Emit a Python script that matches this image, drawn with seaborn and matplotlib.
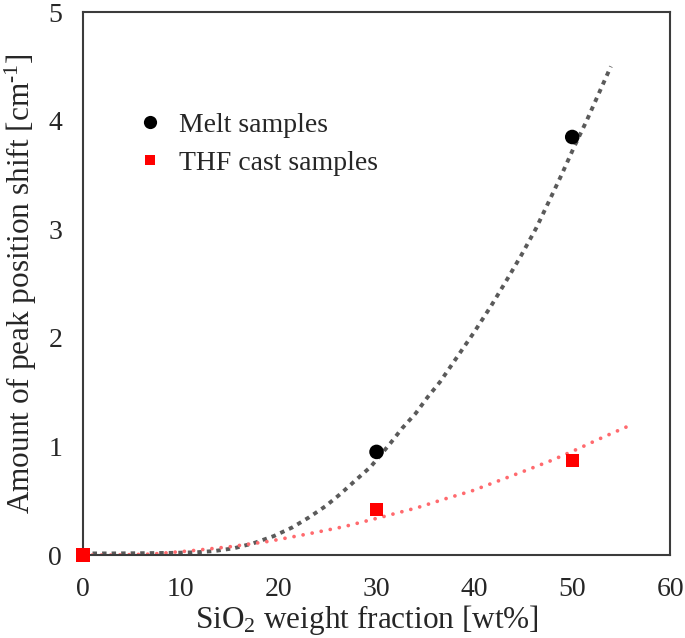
import matplotlib
matplotlib.use("Agg")
import matplotlib.pyplot as plt
import seaborn as sns
import pandas as pd
from matplotlib.lines import Line2D
from matplotlib.ticker import MultipleLocator

# ---- data ----
melt_x = [30, 50]
melt_y = [0.95, 3.85]
thf_x = [0, 30, 50]
thf_y = [0.0, 0.42, 0.87]

# trend curves
melt_fit_x = [0, 3, 6, 9, 11.5, 13.4, 15.4, 17.4, 19.5, 21.4, 23.1, 24.8, 26.3, 27.8, 29.4,
              31.4, 32.6, 34.0, 35.2, 36.5, 40.0, 41.7, 43.3, 44.8, 46.3, 47.6, 48.9, 50.2,
              51.5, 53.95]
melt_fit_y = [0.015, 0.015, 0.017, 0.02, 0.025, 0.037, 0.062, 0.108, 0.175, 0.255, 0.347,
              0.451, 0.562, 0.684, 0.813, 1.028, 1.166, 1.305, 1.452, 1.596, 2.056, 2.293,
              2.532, 2.762, 3.008, 3.253, 3.50, 3.76, 4.005, 4.50]
thf_fit_x = [0, 3.1, 7.0, 11.1, 15.05, 18.97, 22.9, 26.65, 30.4, 34.15, 36.95, 39.78, 42.48,
             45.17, 47.9, 50.53, 53.19, 55.82]
thf_fit_y = [0.0, 0.0, 0.009, 0.04, 0.077, 0.126, 0.193, 0.261, 0.347, 0.436, 0.516, 0.592,
             0.684, 0.776, 0.872, 0.976, 1.087, 1.191]

legend_labels = ["Melt samples", "THF cast samples"]
x_ticks = [0, 10, 20, 30, 40, 50, 60]
y_ticks = [0, 1, 2, 3, 4, 5]

sns.set_style("white")
plt.rcParams["font.family"] = ["Liberation Serif", "DejaVu Serif"]
plt.rcParams["mathtext.fontset"] = "custom"
plt.rcParams["mathtext.rm"] = "Liberation Serif"
plt.rcParams["mathtext.it"] = "Liberation Serif:italic"

TICK_FS = 20
LABEL_FS = 22.5
LEG_FS = 20

fig = plt.figure(figsize=(6.85, 6.38), dpi=100)
ax = fig.add_axes([0.1212, 0.130, 0.857, 0.851])

melt_fit = pd.DataFrame({"x": melt_fit_x, "y": melt_fit_y})
thf_fit = pd.DataFrame({"x": thf_fit_x, "y": thf_fit_y})

sns.lineplot(data=melt_fit, x="x", y="y", ax=ax, sort=False, estimator=None,
             color="#5a5a5a", linewidth=2.8, linestyle=(0, (1.15, 1.3)),
             dash_capstyle="butt", zorder=2)
sns.lineplot(data=thf_fit, x="x", y="y", ax=ax, sort=False, estimator=None,
             color="#ff6a6e", linewidth=2.7, linestyle=(0, (0.01, 2.45)),
             dash_capstyle="round", zorder=2)

sns.scatterplot(x=melt_x, y=melt_y, ax=ax, marker="o", s=110, color="black",
                edgecolor="none", zorder=4, clip_on=False)
sns.scatterplot(x=thf_x, y=thf_y, ax=ax, marker="s", s=90, color="#ff0000",
                edgecolor="none", zorder=5, clip_on=False)

ax.set_xlim(0, 60)
ax.set_ylim(0, 5)
ax.set_xticks(x_ticks)
ax.set_yticks(y_ticks)
ax.xaxis.set_minor_locator(MultipleLocator(2))
ax.tick_params(axis="x", which="major", direction="in", length=7, width=1.2,
               color="black", labelsize=TICK_FS, pad=16)
ax.tick_params(axis="x", which="minor", direction="in", length=5, width=1.2,
               color="black")
ax.tick_params(axis="y", which="both", length=0, labelsize=TICK_FS, pad=15)

for sp in ax.spines.values():
    sp.set_visible(True)
    sp.set_color("#3c3c3c")
    sp.set_linewidth(1.5)

ax.set_xlabel(r"SiO$_\mathregular{2}$ weight fraction [wt%]", fontsize=LABEL_FS, labelpad=2)
ax.xaxis.set_label_coords(0.484, -0.088)
ax.set_ylabel(r"Amount of peak position shift [cm$^{\text{-1}}$]", fontsize=LABEL_FS,
              labelpad=7)

handles = [
    Line2D([], [], marker="o", linestyle="none", color="black", markersize=9.5,
           markeredgewidth=0),
    Line2D([], [], marker="s", linestyle="none", color="#ff0000", markersize=7.5,
           markeredgewidth=0),
]
ax.legend(handles, legend_labels, loc="upper left", bbox_to_anchor=(0.1, 0.815),
          frameon=False, fontsize=LEG_FS, handlelength=0.6, handletextpad=0.75,
          labelspacing=0.45, borderaxespad=0, borderpad=0)

fig.savefig("out.png", dpi=100)
